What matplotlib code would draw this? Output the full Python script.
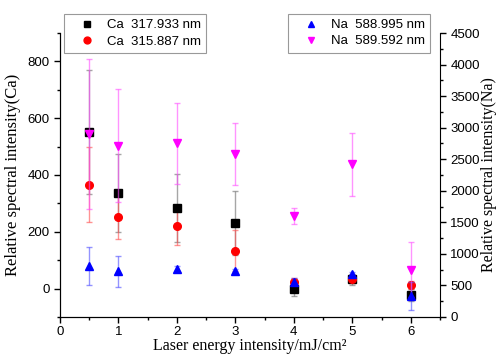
import numpy as np
import matplotlib.pyplot as plt
from matplotlib.ticker import MultipleLocator

# - - - - data - - -
energy = [0.5, 1, 2, 3, 4, 5, 6]

ca317 = [550, 336, 283, 231, -1, 33, -22]
ca317_err = [218, 137, 120, 112, 25, 20, 20]
ca315 = [366, 252, 222, 134, 24, 34, 12]
ca315_err = [133, 76, 68, 73, 15, 15, 15]

na588 = [809, 725, 761, 730, 561, 677, 333]
na588_err = [298, 243, 40, 30, 60, 40, 227]
na589 = [2898, 2712, 2750, 2580, 1602, 2417, 752]
na589_err = [1194, 895, 635, 487, 130, 505, 438]

serif = "Liberation Serif"
sans = "Liberation Sans"


def main():
    plt.rcParams['font.family'] = sans
    fig = plt.figure(figsize=(4.98, 3.56), dpi=100)
    ax = fig.add_axes([0.1205, 0.1096, 0.763, 0.7977])
    ax2 = ax.twinx()

    kw = dict(ls='none', capsize=2.5, elinewidth=1, capthick=1, markersize=5.5)
    h1 = ax.errorbar(energy, ca317, yerr=ca317_err, fmt='s', color='black',
                     ecolor=(0.5, 0.5, 0.5, 0.7), **kw)
    h2 = ax.errorbar(energy, ca315, yerr=ca315_err, fmt='o', color='red',
                     ecolor=(1, 0.3, 0.3, 0.6), **kw)
    h3 = ax2.errorbar(energy, na588, yerr=na588_err, fmt='^', color='blue',
                      ecolor=(0.3, 0.3, 1, 0.6), **kw)
    h4 = ax2.errorbar(energy, na589, yerr=na589_err, fmt='v', color='magenta',
                      ecolor=(1, 0.3, 1, 0.6), **kw)

    ax.set_xlim(0, 6.5)
    ax.set_ylim(-100, 900)
    ax2.set_ylim(0, 4500)
    ax.set_xticks([0, 1, 2, 3, 4, 5, 6])
    ax.xaxis.set_minor_locator(MultipleLocator(0.5))
    ax.set_yticks([0, 200, 400, 600, 800])
    ax.yaxis.set_minor_locator(MultipleLocator(100))
    ax2.set_yticks(np.arange(0, 4501, 500))
    ax2.yaxis.set_minor_locator(MultipleLocator(250))

    for a in (ax, ax2):
        a.spines['top'].set_visible(False)
        a.tick_params(which='major', direction='out', length=4, width=1,
                      labelsize=9.5)
        a.tick_params(which='minor', direction='out', length=2.5, width=1)
    ax.spines['right'].set_visible(False)
    ax.tick_params(axis='x', which='major', pad=2.5)

    ax.set_xlabel("Laser energy intensity/mJ/cm²", family=serif,
                  fontsize=11.5, labelpad=0)
    ax.set_ylabel("Relative spectral intensity(Ca)", family=serif,
                  fontsize=12, labelpad=5)
    ax2.set_ylabel("Relative spectral intensity(Na)", family=serif,
                   fontsize=11.5, labelpad=1)

    legkw = dict(fontsize=9.5, fancybox=False, edgecolor='gray',
                 handletextpad=0.15, borderpad=0.4, labelspacing=0.3,
                 handlelength=2.7, markerscale=0.9, borderaxespad=0)
    leg1 = ax.legend([h1[0], h2[0]], ["Ca  317.933 nm", "Ca  315.887 nm"],
                     loc='upper left', bbox_to_anchor=(0.0105, 1.067), **legkw)
    leg1.get_frame().set_linewidth(0.8)
    leg2 = ax2.legend([h3[0], h4[0]], ["Na  588.995 nm", "Na  589.592 nm"],
                      loc='upper right', bbox_to_anchor=(0.974, 1.068), **legkw)
    leg2.get_frame().set_linewidth(0.8)

    fig.savefig("out.png", dpi=100)


if __name__ == '__main__':
    main()
